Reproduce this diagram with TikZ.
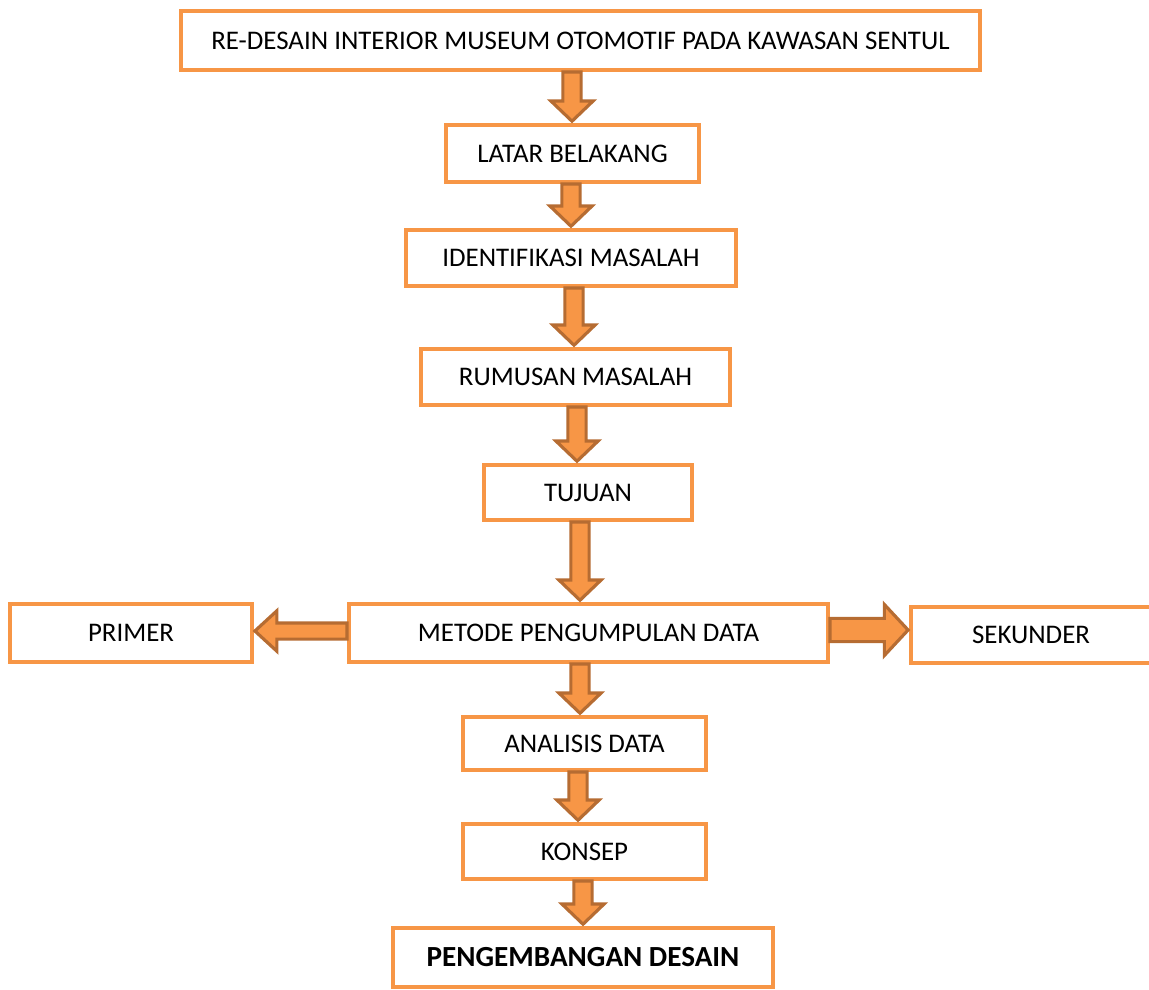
\documentclass[tikz,border=0pt]{standalone}
\usepackage{fontspec}
\setmainfont{Carlito}
\usetikzlibrary{calc}
\definecolor{boxor}{HTML}{F79646}
\definecolor{arrbr}{RGB}{182,108,50}
\tikzset{
  box/.style={draw=boxor, line width=2.3pt, fill=white, inner sep=0pt, align=center,
    font=\fontsize{15.3}{18}\selectfont},
  barrow/.style={draw=arrbr, fill=boxor, line width=1.8pt, line join=miter},
}
\newcommand\downarr[3]{%
  \draw[barrow] let \p1=(#2.south), \p2=(#3.north), \p0=(#1,0) in
    (\x0-5.2pt,\y1) -- (\x0+5.2pt,\y1) -- (\x0+5.2pt,\y2+12.5pt) -- (\x0+12pt,\y2+12.5pt)
    -- (\x0,\y2+1pt) -- (\x0-12pt,\y2+12.5pt) -- (\x0-5.2pt,\y2+12.5pt) -- cycle;}
\begin{document}
\begin{tikzpicture}[x=0.02cm,y=-0.02cm]
\clip (0,0) rectangle (1149,990);
\useasboundingbox (0,0) rectangle (1149,990);
\node[box, minimum width=799*0.02cm, minimum height=59*0.02cm] (t) at (580.5,40.5) {\raisebox{-1pt}{RE-DESAIN INTERIOR MUSEUM OTOMOTIF PADA KAWASAN SENTUL}};
\node[box, minimum width=253*0.02cm, minimum height=57*0.02cm] (lb) at (572.5,153.5) {\raisebox{-2pt}{LATAR BELAKANG}};
\node[box, minimum width=330*0.02cm, minimum height=56*0.02cm] (im) at (571,258) {\raisebox{-1.7pt}{IDENTIFIKASI MASALAH}};
\node[box, minimum width=309*0.02cm, minimum height=56*0.02cm] (rm) at (575.5,377) {\raisebox{-1.7pt}{RUMUSAN MASALAH}};
\node[box, minimum width=208*0.02cm, minimum height=55*0.02cm] (tj) at (588,492.5) {\raisebox{-1.5pt}{TUJUAN}};
\node[box, minimum width=479*0.02cm, minimum height=58*0.02cm] (mp) at (588.5,633) {METODE PENGUMPULAN DATA};
\node[box, minimum width=242*0.02cm, minimum height=58*0.02cm] (pr) at (131,633) {PRIMER};
\node[box, minimum width=240*0.02cm, minimum height=56*0.02cm] (sk) at (1031,635) {\raisebox{-3pt}{SEKUNDER}};
\node[box, minimum width=243*0.02cm, minimum height=53*0.02cm] (ad) at (584.5,743.5) {\raisebox{-2pt}{ANALISIS DATA}};
\node[box, minimum width=243*0.02cm, minimum height=55*0.02cm] (ks) at (584.5,851.5) {KONSEP};
\node[box, minimum width=380*0.02cm, minimum height=59*0.02cm, font=\fontsize{16.6}{19}\selectfont\bfseries] (pd) at (583,957.5) {\raisebox{-3pt}{PENGEMBANGAN DESAIN}};
\downarr{572}{t}{lb}
\downarr{571}{lb}{im}
\downarr{574}{im}{rm}
\downarr{577}{rm}{tj}
\downarr{580}{tj}{mp}
\downarr{580}{mp}{ad}
\downarr{578}{ad}{ks}
\downarr{583}{ks}{pd}
% left arrow
\draw[barrow] let \p1=(mp.west), \p2=(pr.east), \p0=(0,631) in
  (\x1,\y0+4.6pt) -- (\x1,\y0-4.6pt) -- (\x2+13pt,\y0-4.6pt) -- (\x2+13pt,\y0-11.5pt)
  -- (\x2+0.5pt,\y0) -- (\x2+13pt,\y0+11.5pt) -- (\x2+13pt,\y0+4.6pt) -- cycle;
% right arrow
\draw[barrow] let \p1=(mp.east), \p2=(sk.west), \p0=(0,630) in
  (\x1,\y0+6.6pt) -- (\x1,\y0-6.6pt) -- (\x2-14pt,\y0-6.6pt) -- (\x2-14pt,\y0-14.5pt)
  -- (\x2-0.5pt,\y0) -- (\x2-14pt,\y0+14.5pt) -- (\x2-14pt,\y0+6.6pt) -- cycle;
\end{tikzpicture}
\end{document}
